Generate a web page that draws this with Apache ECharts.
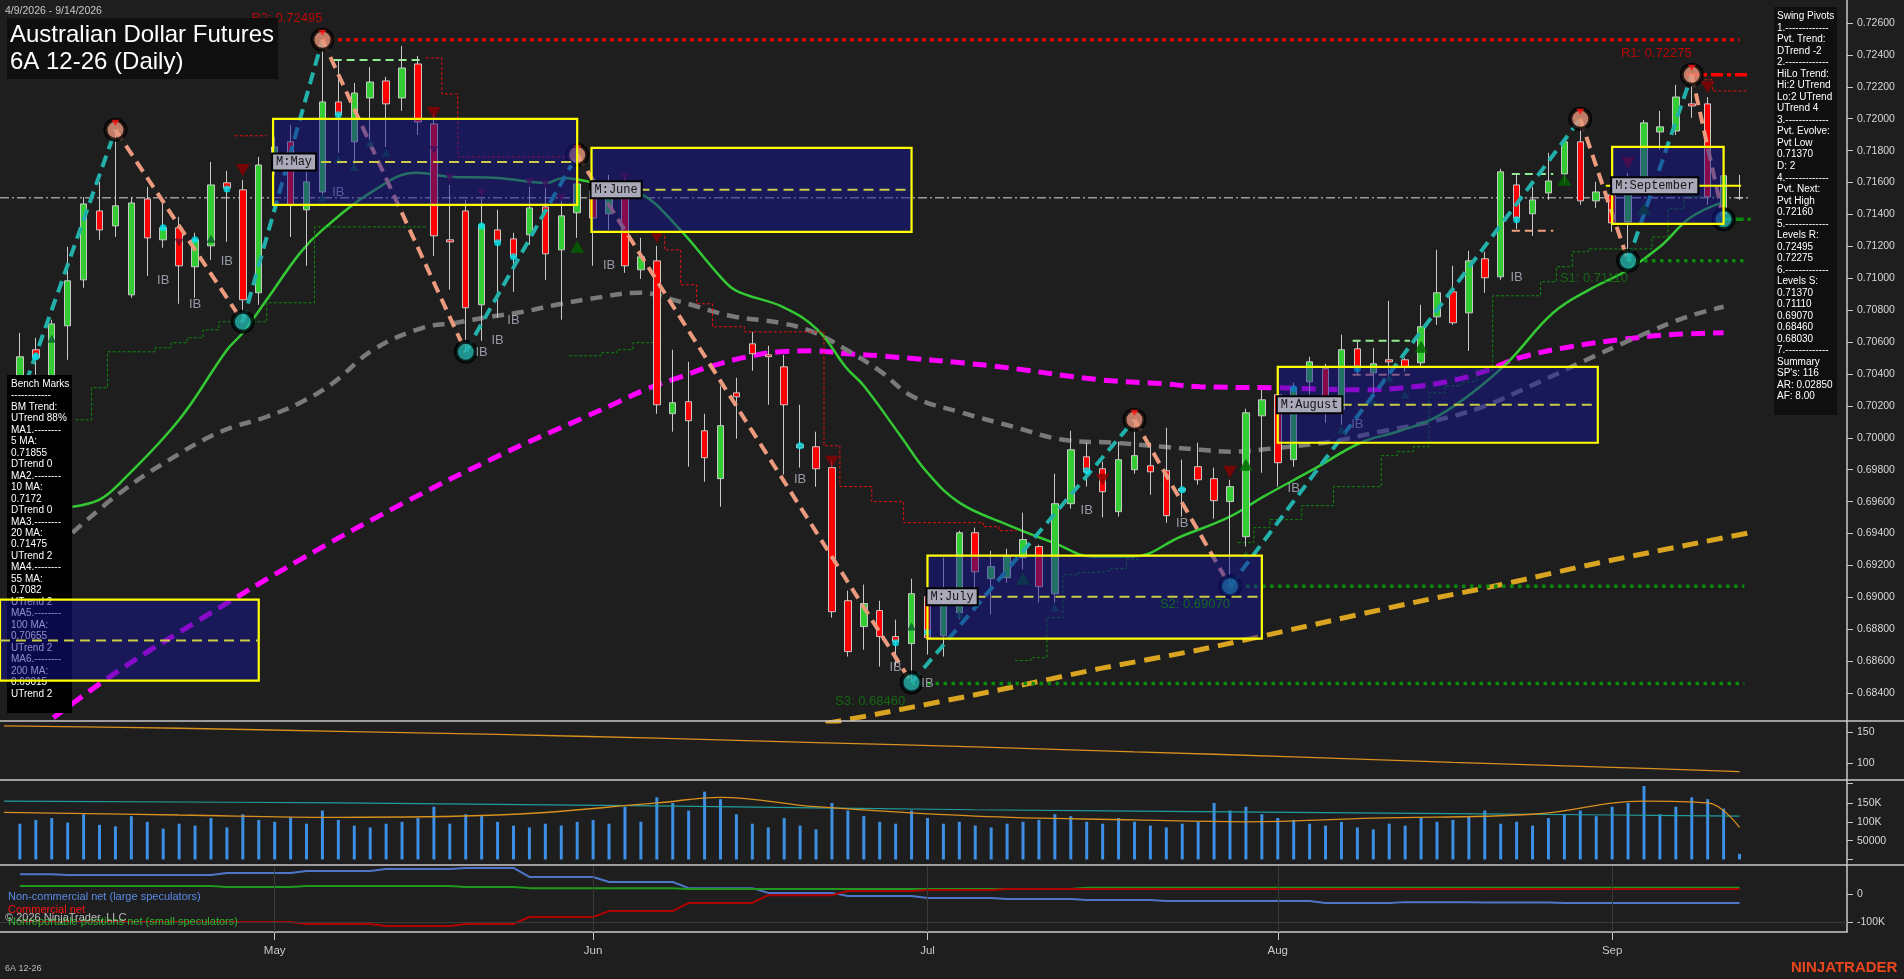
<!DOCTYPE html>
<html><head><meta charset="utf-8">
<script src="https://cdn.jsdelivr.net/npm/echarts@6/dist/echarts.min.js"></script>
<style>html,body{margin:0;padding:0;background:#1e1e1e;overflow:hidden}#c{width:1904px;height:979px}</style>
</head><body><div id="c"></div>
<script>
// ---------------- DATA ----------------
const monthTicks = [16, 36, 57, 79, 100];
const monthNames = ['May', 'Jun', 'Jul', 'Aug', 'Sep'];
const priceTicks = [0.684,0.686,0.688,0.690,0.692,0.694,0.696,0.698,0.700,0.702,0.704,0.706,0.708,0.710,0.712,0.714,0.716,0.718,0.720,0.722,0.724,0.726];
const oscTicks = [100, 150];
const volTicks = [50000, 100000, 150000];
const cotTicks = [-100000, 0];

// daily bars Apr 9 .. Sep 14 2026: [open, close, low, high]
const ohlc = [
[0.70301,0.70508,0.70238,0.70658],[0.70552,0.70501,0.70395,0.70627],[0.70332,0.70714,0.70289,0.70740],[0.70702,0.70984,0.70489,0.71197],
[0.70990,0.71466,0.70940,0.71510],[0.71422,0.71303,0.71241,0.71604],[0.71328,0.71454,0.71259,0.71930],[0.70896,0.71472,0.70877,0.71510],
[0.71497,0.71253,0.71015,0.71573],[0.71241,0.71316,0.71191,0.71479],[0.71316,0.71078,0.70840,0.71385],[0.71072,0.71241,0.70877,0.71285],
[0.71203,0.71585,0.71115,0.71729],[0.71598,0.71566,0.71228,0.71673],[0.71554,0.70865,0.70727,0.71617],[0.70909,0.71710,0.70833,0.71761],
[0.71742,0.71823,0.71648,0.71886],[0.71855,0.71460,0.71259,0.71961],[0.71429,0.71604,0.71078,0.71710],[0.71541,0.72105,0.71504,0.72495],
[0.72105,0.72024,0.71786,0.72368],[0.71855,0.72161,0.71711,0.72224],[0.72130,0.72230,0.71867,0.72324],[0.72237,0.72093,0.71823,0.72262],
[0.72130,0.72318,0.72049,0.72456],[0.72343,0.71980,0.71898,0.72393],[0.71967,0.71266,0.71140,0.72024],[0.71241,0.71228,0.70928,0.71585],
[0.71422,0.70815,0.70539,0.71491],[0.70834,0.71335,0.70608,0.71498],[0.71303,0.71228,0.70752,0.71429],[0.71247,0.71134,0.70915,0.71285],
[0.71272,0.71441,0.71209,0.71573],[0.71447,0.71153,0.70990,0.71566],[0.71178,0.71391,0.70740,0.71491],[0.71410,0.71591,0.71253,0.71773],
[0.71548,0.71378,0.71078,0.71617],[0.71404,0.71566,0.71303,0.71648],[0.71560,0.71078,0.71034,0.71635],[0.71053,0.71134,0.70996,0.71253],
[0.71109,0.70207,0.70151,0.71203],[0.70151,0.70220,0.70038,0.70552],[0.70226,0.70107,0.69819,0.70476],[0.70044,0.69875,0.69725,0.70151],
[0.69744,0.70076,0.69568,0.70326],[0.70282,0.70257,0.69994,0.70376],[0.70589,0.70527,0.70420,0.70664],[0.70520,0.70508,0.70207,0.70577],
[0.70445,0.70207,0.69769,0.70520],[0.69957,0.69938,0.69813,0.70207],[0.69944,0.69806,0.69693,0.70038],[0.69813,0.68910,0.68873,0.69856],
[0.68979,0.68660,0.68629,0.69042],[0.68817,0.68961,0.68672,0.69080],[0.68917,0.68754,0.68566,0.68979],[0.68754,0.68723,0.68572,0.68860],
[0.68710,0.69023,0.68466,0.69117],[0.69004,0.68748,0.68641,0.69029],[0.68760,0.69017,0.68629,0.69249],[0.68904,0.69405,0.68861,0.69418],
[0.69405,0.69160,0.69048,0.69437],[0.69117,0.69192,0.68892,0.69292],[0.69123,0.69255,0.69092,0.69305],[0.69249,0.69362,0.69174,0.69531],
[0.69318,0.69067,0.68967,0.69330],[0.69023,0.69587,0.68967,0.69775],[0.69587,0.69925,0.69556,0.70044],[0.69881,0.69787,0.69694,0.69969],
[0.69806,0.69662,0.69500,0.69850],[0.69537,0.69863,0.69506,0.69975],[0.69800,0.69888,0.69775,0.70113],[0.69825,0.69787,0.69643,0.69969],
[0.69794,0.69512,0.69468,0.70063],[0.69681,0.69669,0.69506,0.69863],[0.69819,0.69737,0.69706,0.69969],[0.69744,0.69606,0.69493,0.69813],
[0.69600,0.69694,0.69070,0.69737],[0.69380,0.70157,0.69318,0.70182],[0.70138,0.70238,0.69781,0.70301],[0.70270,0.69844,0.69694,0.70414],
[0.69863,0.70314,0.69819,0.70345],[0.70351,0.70476,0.70270,0.70508],[0.70433,0.70195,0.70094,0.70464],[0.70176,0.70552,0.70082,0.70646],
[0.70558,0.70439,0.70395,0.70608],[0.70407,0.70464,0.70257,0.70564],[0.70489,0.70476,0.70364,0.70859],[0.70489,0.70445,0.70414,0.70502],
[0.70470,0.70696,0.70439,0.70834],[0.70758,0.70909,0.70708,0.71178],[0.70915,0.70721,0.70708,0.71078],[0.70783,0.71109,0.70545,0.71172],
[0.71122,0.71003,0.70909,0.71166],[0.71009,0.71667,0.70990,0.71686],[0.71585,0.71378,0.71310,0.71660],[0.71404,0.71491,0.71266,0.71573],
[0.71535,0.71610,0.71491,0.71786],[0.71654,0.71855,0.71598,0.71880],[0.71855,0.71485,0.71460,0.71999],[0.71485,0.71541,0.71441,0.71604],
[0.71523,0.71347,0.71291,0.71604],[0.71353,0.71617,0.71110,0.71660],[0.71617,0.71974,0.71585,0.71992],[0.71917,0.71949,0.71804,0.72049],
[0.71923,0.72136,0.71898,0.72212],[0.72093,0.72080,0.72005,0.72275],[0.72093,0.71510,0.71460,0.72136],[0.71404,0.71642,0.71370,0.71654],
[0.71504,0.71504,0.71491,0.71648]
];

const volume = [
95000,105000,110000,98000,120000,92000,88000,115000,100000,82000,95000,90000,110000,85000,120000,105000,
100000,112000,95000,130000,105000,90000,85000,95000,100000,110000,140000,95000,120000,115000,100000,90000,85000,95000,90000,100000,
105000,95000,140000,100000,165000,150000,130000,180000,160000,120000,95000,85000,110000,90000,80000,150000,130000,115000,100000,95000,130000,
110000,95000,100000,90000,85000,95000,100000,105000,120000,115000,100000,95000,110000,100000,90000,85000,95000,100000,150000,130000,140000,120000,
110000,105000,95000,90000,100000,85000,80000,95000,90000,110000,100000,105000,115000,130000,95000,100000,90000,110000,120000,130000,115000,
140000,150000,195000,120000,140000,165000,160000,135000,15000
];
const volAvg = [[-1,125000],[10,118000],[20,112000],[30,118000],[40,150000],[44,165000],[50,140000],[60,115000],[70,105000],[77,100000],[85,110000],[95,120000],[102,155000],[106,150000],[108,85000]];
const volSlow = [[-1,155000],[20,150000],[40,142000],[60,132000],[80,125000],[100,118000],[108,115000]];
const osc = [[-1,160],[10,156],[20,151],[30,146],[40,140],[50,133],[60,126],[70,118],[80,110],[90,101],[100,93],[108,86]];

const cotNonComm = [[0,71000],[2,71000],[3,68000],[12,68000],[13,75000],[17,75000],[18,82000],[22,82000],[23,89000],[27,89000],[28,93000],[31,93000],[32,61000],[36,61000],[37,43000],[41,43000],[42,21000],[46,21000],[47,4000],[51,4000],[52,-7000],[56,-7000],[57,-14000],[61,-14000],[62,-18000],[66,-18000],[67,-21000],[71,-21000],[72,-25000],[81,-25000],[82,-32000],[86,-32000],[87,-29000],[91,-29000],[92,-30000],[96,-30000],[97,-32000],[108,-32000]];
const cotComm = [[0,-100000],[17,-100000],[18,-107000],[22,-107000],[23,-114000],[27,-114000],[28,-107000],[31,-107000],[32,-82000],[36,-82000],[37,-61000],[41,-61000],[42,-32000],[46,-32000],[47,-4000],[51,-4000],[52,11000],[56,11000],[57,14000],[61,14000],[62,18000],[108,18000]];
const cotSmall = [[0,29000],[12,29000],[13,25000],[17,25000],[18,29000],[27,29000],[28,25000],[31,25000],[32,21000],[41,21000],[42,18000],[66,18000],[67,22000],[108,22000]];

const ma20 = [[3.3,0.69568],[5,0.69612],[6.3,0.69718],[10,0.70113],[13,0.70551],[14,0.70658],[15.5,0.70865],[17.6,0.71159],[19,0.71303],[22,0.71535],[24.9,0.71661],[27,0.71636],[30,0.71629],[33.1,0.71598],[34.1,0.71629],[35.8,0.71604],[38.9,0.71535],[41.3,0.71322],[44,0.71009],[45,0.70921],[47.9,0.70821],[50.1,0.70677],[51.9,0.70439],[53,0.70326],[55.3,0.70013],[57,0.69781],[59,0.69594],[62,0.69456],[64.9,0.69343],[67.4,0.69255],[69.9,0.69255],[72.9,0.69380],[76,0.69506],[78.1,0.69631],[81.2,0.69800],[84.2,0.69969],[86.5,0.70038],[88.6,0.70113],[90,0.70194],[91.7,0.70320],[93.6,0.70489],[96.3,0.70784],[98.8,0.70941],[100.9,0.71047],[103,0.71197],[104.9,0.71379],[107,0.71479]];
const ma55 = [[3.3,0.69405],[6.3,0.69656],[9.4,0.69863],[12.6,0.70038],[15.5,0.70132],[17.6,0.70220],[19.6,0.70339],[22.2,0.70552],[25.3,0.70689],[27.4,0.70721],[29.5,0.70758],[31.6,0.70790],[33.7,0.70834],[35.8,0.70871],[38.9,0.70909],[41.5,0.70852],[44.6,0.70765],[47.7,0.70721],[49.8,0.70664],[51.9,0.70552],[54,0.70420],[56.1,0.70257],[59.2,0.70157],[62.4,0.70069],[65.5,0.69988],[68.7,0.69969],[71.8,0.69944],[74.1,0.69925],[76,0.69913],[79.1,0.69938],[82.3,0.69975],[85.4,0.70038],[88.6,0.70101],[91.7,0.70188],[95,0.70330],[98.4,0.70489],[101.6,0.70633],[104.7,0.70758],[107,0.70821]];
const ma100 = [[2.1,0.68246],[6.3,0.68547],[11.3,0.68860],[17.6,0.69236],[23.9,0.69581],[30.2,0.69894],[35.4,0.70126],[37.2,0.70207],[39.4,0.70307],[41.5,0.70382],[43.5,0.70451],[45.7,0.70508],[47.7,0.70539],[49.8,0.70545],[51.9,0.70527],[54,0.70514],[61,0.70451],[67.8,0.70364],[71.8,0.70339],[74.1,0.70320],[78.7,0.70314],[84.4,0.70301],[87.5,0.70320],[89.6,0.70351],[91.7,0.70407],[94.2,0.70502],[97.4,0.70571],[100.5,0.70615],[103.6,0.70646],[107,0.70658]];
const trendGold = [[50.6,0.68209],[54,0.68272],[61.6,0.68422],[67.8,0.68553],[74.1,0.68672],[80.4,0.68810],[87.5,0.68967],[93,0.69079],[99.2,0.69217],[109,0.69412]];

// swing pivots [index, price, 1=high / -1=low / 0=start]
const pivots = [[0,0.70238,0],[6,0.71930,1],[14,0.70727,-1],[19,0.72495,1],[28,0.70539,-1],[35,0.71773,1],[56,0.68466,-1],[70,0.70113,1],[76,0.69070,-1],[98,0.71999,1],[101,0.71110,-1],[105,0.72275,1],[107,0.71370,-1]];

// monthly range boxes [startIdx, endIdx, top, bottom, mid]
const boxes = [[-1.25,15,0.68986,0.68478,0.68729],[15.9,35,0.71999,0.71460,0.71729],[35.9,56,0.71817,0.71291,0.71554],[57,78,0.69261,0.68741,0.69004],[79,99.1,0.70445,0.69969,0.70207],[100,107,0.71823,0.71341,0.71579]];
const boxLabels = ['', 'M:May', 'M:June', 'M:July', 'M:August', 'M:September'];

const levelR = [[19,108,0.72495]];
const levelR1 = [[104.7,108.5,0.72275]];
const levelS = [[101,108.3,0.71110],[76,108.3,0.69070],[56,108.3,0.68460]];
const levelEvolve = [[107,108.7,0.71370]];
const levelLabels = [[19,0.72495,'R2: 0.72495'],[105,0.72275,'R1: 0.72275'],[101,0.71110,'S1: 0.71110'],[76,0.69070,'S2: 0.69070'],[55.6,0.68460,'S3: 0.68460']];
const lastPrice = 0.71504;

const stopGreen = [
 [[3.5,0.70113],[4.5,0.70314],[5.5,0.70539],[8.5,0.70564],[9.5,0.70596],[10.5,0.70627],[11.5,0.70677],[12.5,0.70727],[15.5,0.70846],[18.5,0.71322],[25.5,0.71322]],
 [[34.5,0.70514],[36.5,0.70533],[37.5,0.70552],[38.5,0.70596],[39.5,0.70602],[40.3,0.70602]],
 [[62.5,0.68604],[63.5,0.68622],[64.5,0.68873],[65.5,0.69142],[66.5,0.69155],[67.5,0.69167],[68.5,0.69180],[69.5,0.69236],[70.3,0.69236]],
 [[76.5,0.69343],[77.5,0.69437],[78.5,0.69487],[80.5,0.69575],[82.5,0.69694],[85.5,0.69888],[86.5,0.69913],[87.5,0.69944],[88.5,0.70282],[89.5,0.70326],[90.5,0.70351],[91.5,0.70426],[92.5,0.70890],[95.5,0.70978],[96.5,0.71072],[97.5,0.71166],[98.5,0.71184],[102.5,0.71259],[103.5,0.71435],[104.5,0.71510],[106.8,0.71510]]
];
const stopRed = [
 [[13.5,0.71893],[15.5,0.71893]],
 [[25.5,0.72381],[26.5,0.72155],[27.5,0.71761],[35,0.71761]],
 [[39.5,0.71291],[40.5,0.71178],[41.5,0.70959],[42.5,0.70840],[43.5,0.70696],[45.5,0.70664],[50.5,0.69950],[51.5,0.69694],[53.5,0.69600],[55.5,0.69468],[60.5,0.69443],[61.5,0.69418],[62.6,0.69418]],
 [[105.8,0.72244],[106.3,0.72174],[108.5,0.72174]]
];
const hiDash = [[19.7,25.3,0.72368],[83.7,87.3,0.70608],[93.7,96.3,0.71654]];
const loDash = [[83.7,87.3,0.70395],[93.7,96.3,0.71297]];

const ibMarks = [[9,0.70989],[11,0.70833],[13,0.71103],[20,0.71535],[29,0.70533],[30,0.70608],[31,0.70733],[37,0.71078],[49,0.69737],[55,0.68560],[57,0.68460],[67,0.69543],[73,0.69462],[80,0.69681],[84,0.70082],[94,0.71003]];
const sigDownBig = [[14,0.71679],[26,0.72036],[40,0.71259],[51,0.69850],[68,0.69737],[76,0.69787],[101,0.71723],[106,0.72199]];
const sigDownSmall = [[10,0.71222],[26,0.71804],[27,0.71629],[29,0.71535],[32,0.71604],[33,0.71591],[34,0.71504],[38,0.71635]];
const sigUpBig = [[35,0.71197],[63,0.69117],[77,0.69831],[88,0.70570],[97,0.71617],[102,0.71435]];
const sigUpSmall = [[2,0.70621],[12,0.71247],[19,0.71504],[20,0.71742],[21,0.71698],[22,0.71848],[23,0.71786],[56,0.68817],[59,0.68892],[65,0.68936],[77,0.69268],[83,0.70050],[85,0.70226],[86,0.70376],[87,0.70270]];
const cyanDots = [[1,0.70508],[9,0.71316],[11,0.71241],[13,0.71560],[20,0.72024],[29,0.71328],[30,0.71222],[31,0.71134],[49,0.69950],[55,0.68716],[57,0.68779],[67,0.69794],[73,0.69675],[80,0.70307],[84,0.70433],[94,0.71366]];

const swingText = ['Swing Pivots','1.-------------','Pvt. Trend:','DTrend -2','2.-------------','HiLo Trend:','Hi:2 UTrend','Lo:2 UTrend','UTrend 4','3.-------------','Pvt. Evolve:','Pvt Low','0.71370','D: 2','4.-------------','Pvt. Next:','Pvt High','0.72160','5.-------------','Levels R:','0.72495','0.72275','6.-------------','Levels S:','0.71370','0.71110','0.69070','0.68460','0.68030','7.-------------','Summary',"SP's: 116",'AR: 0.02850','AF: 8.00'];
const benchText = ['Bench Marks','------------','BM Trend:','UTrend 88%','MA1.--------','5 MA:','0.71855','DTrend 0','MA2.--------','10 MA:','0.7172','DTrend 0','MA3.--------','20 MA:','0.71475','UTrend 2','MA4.--------','55 MA:','0.7082','UTrend 2','MA5.--------','100 MA:','0.70655','UTrend 2','MA6.--------','200 MA:','0.69015','UTrend 2'];

// ---------------- CHART ----------------
const FONT = 'Liberation Sans';
const XMIN = -1.25, XMAX = 114.75;
const chart = echarts.init(document.getElementById('c'), null, {renderer:'canvas', width:1904, height:979});

function gridDef(top, height){ return {left:0, top, width:1847, height, containLabel:false, outerBoundsMode:'none', show:false}; }
function xAx(gi){ return {type:'value', gridIndex:gi, min:XMIN, max:XMAX, show:false, axisLine:{onZero:false}}; }
function yAx(gi, min, max, ticks, labels, fmt){
  return {type:'value', gridIndex:gi, position:'right', min, max,
    axisLine:{show:true, onZero:false, lineStyle:{color:'#c8c8c8', width:1.5}},
    axisTick:{show:true, customValues:ticks, length:6, lineStyle:{color:'#c8c8c8'}},
    axisLabel:{show:true, customValues:labels, formatter:fmt, color:'#d8d8d8', fontSize:10.5, fontFamily:FONT, margin:10},
    splitLine:{show:false}};
}
const kfmt = v => (Math.abs(v) >= 100000 ? (v/1000)+'K' : String(v));

const series = [];
// MAs
series.push({type:'line', name:'ma100', data:ma100, smooth:0.4, showSymbol:false, z:3, lineStyle:{color:'#ff00ff', width:5, type:[14,8]}});
series.push({type:'line', name:'ma55', data:ma55, smooth:0.4, showSymbol:false, z:3, lineStyle:{color:'#7a7a7a', width:4.5, type:[12,8]}});
series.push({type:'line', name:'ma20', data:ma20, smooth:0.4, showSymbol:false, z:3, lineStyle:{color:'#34c934', width:2.5}});
series.push({type:'line', name:'trend', data:trendGold, smooth:0.3, showSymbol:false, z:3, lineStyle:{color:'#d9a520', width:5, type:[16,9]}});
// last price
series.push({type:'line', data:[[XMIN,lastPrice],[108.6,lastPrice]], showSymbol:false, z:2, lineStyle:{color:'#9a9a9a', width:1.5, type:[9,3,2,3]}});
// trailing stops
stopGreen.forEach(s => series.push({type:'line', data:s, step:'end', showSymbol:false, z:3, lineStyle:{color:'#0e8a0e', width:1, type:[3,2]}}));
stopRed.forEach(s => series.push({type:'line', data:s, step:'end', showSymbol:false, z:3, lineStyle:{color:'#e01010', width:1, type:[3,2]}}));
hiDash.forEach(s => series.push({type:'line', data:[[s[0],s[2]],[s[1],s[2]]], showSymbol:false, z:4, lineStyle:{color:'#90ee90', width:2, type:[8,5]}}));
loDash.forEach(s => series.push({type:'line', data:[[s[0],s[2]],[s[1],s[2]]], showSymbol:false, z:4, lineStyle:{color:'#f0a080', width:2, type:[8,5]}}));
// candles
series.push({type:'candlestick', data: ohlc.map((d,i)=>[i,d[0],d[1],d[2],d[3]]), encode:{x:0, y:[1,2,3,4]}, barWidth:7, z:4,
  itemStyle:{color:'#33cc33', color0:'#ff0000', borderColor:'#c8c8c8', borderColor0:'#c8c8c8', borderColorDoji:'#c8c8c8', borderWidth:1}});
// levels
levelR.forEach(s => series.push({type:'line', data:[[s[0],s[2]],[s[1],s[2]]], showSymbol:false, z:5, lineStyle:{color:'#ff0000', width:3.5, type:[3.5,4.5]}}));
levelR1.forEach(s => series.push({type:'line', data:[[s[0],s[2]],[s[1],s[2]]], showSymbol:false, z:5, lineStyle:{color:'#ff0000', width:3.5, type:[12,4,4,4]}}));
levelS.forEach(s => series.push({type:'line', data:[[s[0],s[2]],[s[1],s[2]]], showSymbol:false, z:5, lineStyle:{color:'#0b8a0b', width:3.5, type:[3.5,4.5]}}));
levelEvolve.forEach(s => series.push({type:'line', data:[[s[0],s[2]],[s[1],s[2]]], showSymbol:false, z:5, lineStyle:{color:'#0b8a0b', width:3.5, type:[8,4]}}));
// zigzag legs
for (let k = 1; k < pivots.length; k++) {
  const a = pivots[k-1], b = pivots[k];
  series.push({type:'line', data:[[a[0],a[1]],[b[0],b[1]]], showSymbol:false, z:6,
    lineStyle:{color: b[2] > 0 ? '#22b0aa' : '#ec9a7e', width:4, type:[12,7]}});
}
// pivot circles
series.push({type:'scatter', data: pivots.filter(p=>p[2]!==0).map(p=>({value:[p[0],p[1]], itemStyle:{color: p[2]>0 ? '#e9967a' : '#22b0aa'}})),
  symbolSize:20, z:7, itemStyle:{borderColor:'#000', borderWidth:4}});
series.push({type:'scatter', data: pivots.filter(p=>p[2]>0).map(p=>[p[0],p[1]]), symbol:'triangle', symbolRotate:180, symbolSize:[8,6], symbolOffset:[0,-7], z:8, itemStyle:{color:'#ff1010'}});
// signals
series.push({type:'scatter', data:sigDownBig, symbol:'triangle', symbolRotate:180, symbolSize:[14,12], z:8, itemStyle:{color:'#8b0000'}});
series.push({type:'scatter', data:sigDownSmall, symbol:'triangle', symbolRotate:180, symbolSize:[9,8], z:8, itemStyle:{color:'#6e0a2a'}});
series.push({type:'scatter', data:sigUpBig, symbol:'triangle', symbolSize:[14,12], z:8, itemStyle:{color:'#006400'}});
series.push({type:'scatter', data:sigUpSmall, symbol:'triangle', symbolSize:[9,8], z:8, itemStyle:{color:'#0a5a2a'}});
series.push({type:'scatter', data:cyanDots, symbolSize:7, z:8, itemStyle:{color:'#00e5f0'}});
series.push({type:'scatter', data:ibMarks, symbolSize:0, z:8, itemStyle:{color:'transparent'},
  label:{show:true, position:'inside', formatter:'IB', color:'#b4b8c8', fontSize:13, fontFamily:FONT}});
// level labels
series.push({type:'scatter', data: levelLabels.map(l=>({value:[l[0],l[1]], name:l[2], label:{position:[0, l[2][0]==='R' ? -21 : 18], color: l[2][0]==='R' ? '#dd0000' : '#137a13'}})),
  symbolSize:0, z:21, itemStyle:{color:'transparent'},
  label:{show:true, formatter:p=>p.name, align:'right', verticalAlign:'middle', fontSize:13, fontFamily:FONT}});
// monthly boxes
series.push({type:'custom', data:boxes, z:20, clip:false, encode:{x:[0,1], y:[2,3]},
  renderItem:(params, api) => {
    const idx = params.dataIndex;
    const i0 = api.value(0), i1 = api.value(1), top = api.value(2), bot = api.value(3), mid = api.value(4);
    const p0 = api.coord([i0, top]), p1 = api.coord([i1, bot]);
    const isLast = idx === boxes.length - 1;
    const m0 = api.coord([isLast ? 99.6 : i0, mid]), m1 = api.coord([isLast ? 108.1 : i1, mid]);
    const ch = [
      {type:'rect', shape:{x:p0[0], y:p0[1], width:p1[0]-p0[0], height:p1[1]-p0[1]}, style:{fill:'rgba(20,20,150,0.5)', stroke:'#ffff00', lineWidth:2.2}},
      {type:'line', shape:{x1:m0[0], y1:m0[1], x2:m1[0], y2:m1[1]}, style:{stroke: isLast ? '#ffff00' : '#cccc44', lineWidth:2, lineDash: isLast ? null : [10,6]}}
    ];
    if (boxLabels[idx]) ch.push({type:'text', x:p0[0], y:m0[1], z2:5, style:{text:boxLabels[idx], font:'12px "Liberation Mono"', fill:'#151515',
       backgroundColor:'#a9a9ba', borderColor:'#000', borderWidth:2, padding:[2,3,1,3], verticalAlign:'middle', align:'left'}});
    return {type:'group', children:ch};
  }});

// oscillator panel
series.push({type:'line', xAxisIndex:1, yAxisIndex:1, data:osc, smooth:0.4, showSymbol:false, lineStyle:{color:'#d8901e', width:1.3}});
// volume panel
series.push({type:'bar', xAxisIndex:2, yAxisIndex:2, data: volume.map((v,i)=>[i,v]), barWidth:3, itemStyle:{color:'#3d8fe3'}});
series.push({type:'line', xAxisIndex:2, yAxisIndex:2, data:volSlow, smooth:0.4, showSymbol:false, z:3, lineStyle:{color:'#229c9c', width:1.2}});
series.push({type:'line', xAxisIndex:2, yAxisIndex:2, data:volAvg, smooth:0.4, showSymbol:false, z:3, lineStyle:{color:'#d8901e', width:1.3}});
// COT panel
series.push({type:'line', xAxisIndex:3, yAxisIndex:3, data:cotNonComm, showSymbol:false, z:3, lineStyle:{color:'#4e76c8', width:2},
  markLine:{silent:true, symbol:'none', label:{show:false}, lineStyle:{color:'#3a3a3a', type:'solid', width:1},
    data:[...monthTicks.map(v=>({xAxis:v})), {yAxis:-100000}]}});
series.push({type:'line', xAxisIndex:3, yAxisIndex:3, data:cotSmall, showSymbol:false, z:3, lineStyle:{color:'#1f9a1f', width:2}});
series.push({type:'line', xAxisIndex:3, yAxisIndex:3, data:cotComm, showSymbol:false, z:3, lineStyle:{color:'#b00000', width:2}});

// graphics
const g = [];
[[721,1904],[780,1904],[865,1904]].forEach(l => g.push({type:'line', shape:{x1:0,y1:l[0],x2:l[1],y2:l[0]}, style:{stroke:'#c8c8c8', lineWidth:1.5}, z:30}));
g.push({type:'text', x:5, y:11, style:{text:'4/9/2026 - 9/14/2026', fill:'#c8c8c8', font:'10.5px "Liberation Sans"', verticalAlign:'middle'}, z:30});
g.push({type:'rect', shape:{x:7, y:18, width:271, height:61}, style:{fill:'#0f0f0f'}, z:30});
g.push({type:'text', x:10, y:35, style:{text:'Australian Dollar Futures', fill:'#ffffff', font:'24px "Liberation Sans"', verticalAlign:'middle'}, z:31});
g.push({type:'text', x:10, y:62, style:{text:'6A 12-26 (Daily)', fill:'#ffffff', font:'24px "Liberation Sans"', verticalAlign:'middle'}, z:31});
g.push({type:'rect', shape:{x:1774, y:7, width:63, height:408}, style:{fill:'#0f0f0f'}, z:30});
swingText.forEach((t,k) => g.push({type:'text', x:1777, y:16.5 + k*11.52, style:{text:t, fill:'#ffffff', font:'10px "Liberation Sans"', verticalAlign:'middle'}, z:31}));
g.push({type:'rect', shape:{x:7, y:375, width:65, height:338}, style:{fill:'#000000'}, z:15});
benchText.forEach((t,k) => g.push({type:'text', x:11, y:384 + k*11.48, style:{text:t, fill:'#ffffff', font:'10px "Liberation Sans"', verticalAlign:'middle'}, z:16}));
g.push({type:'text', x:8, y:897, style:{text:'Non-commercial net (large speculators)', fill:'#5a8be6', font:'11px "Liberation Sans"', verticalAlign:'middle'}, z:30});
g.push({type:'text', x:8, y:910, style:{text:'Commercial net', fill:'#ff1010', font:'11px "Liberation Sans"', verticalAlign:'middle'}, z:30});
g.push({type:'text', x:8, y:922, style:{text:'Nonreportable positions net (small speculators)', fill:'#2fb52f', font:'11px "Liberation Sans"', verticalAlign:'middle'}, z:30});
g.push({type:'text', x:5, y:918, style:{text:'© 2026 NinjaTrader, LLC', fill:'#bdbdbd', font:'11px "Liberation Sans"', verticalAlign:'middle'}, z:31});
g.push({type:'text', x:5, y:969, style:{text:'6A 12-26', fill:'#bdbdbd', font:'9px "Liberation Sans"', verticalAlign:'middle'}, z:30});
g.push({type:'text', x:1791, y:968, style:{text:'NINJATRADER', fill:'#e8461c', font:'bold 15px "Liberation Sans"', verticalAlign:'middle'}, z:30});

chart.setOption({
  animation:false,
  backgroundColor:'#1e1e1e',
  grid:[gridDef(0,721), gridDef(721,59), gridDef(780,85), gridDef(865,67)],
  xAxis:[xAx(0), xAx(1), xAx(2), Object.assign(xAx(3), {show:true,
    axisLine:{show:true, onZero:false, lineStyle:{color:'#c8c8c8', width:1.5}},
    axisTick:{show:true, customValues:monthTicks, length:8, lineStyle:{color:'#c8c8c8'}},
    axisLabel:{show:true, customValues:monthTicks, formatter:v=>monthNames[monthTicks.indexOf(v)], color:'#c8c8c8', fontSize:11.5, fontFamily:FONT, margin:13},
    splitLine:{show:false}})],
  yAxis:[
    yAx(0, 0.68225, 0.72744, priceTicks, priceTicks, v=>v.toFixed(5)),
    yAx(1, 72.6, 167.7, oscTicks, oscTicks, v=>String(v)),
    yAx(2, -14600, 210900, [0, 50000, 100000, 150000, 202000], volTicks, kfmt),
    yAx(3, -135700, 103600, cotTicks, cotTicks, kfmt)
  ],
  series,
  graphic:{elements:g}
});
</script></body></html>
